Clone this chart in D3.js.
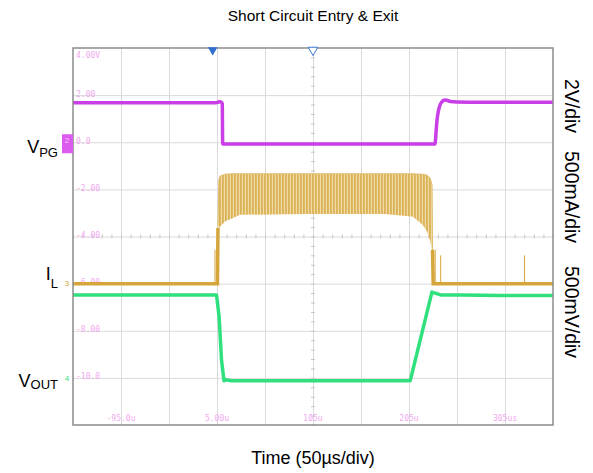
<!DOCTYPE html>
<html>
<head>
<meta charset="utf-8">
<script src="https://cdn.jsdelivr.net/npm/d3@7"></script>
<style>
  html, body { margin: 0; padding: 0; background: #ffffff; }
  svg { display: block; font-family: "Liberation Sans", Arial, sans-serif; }
</style>
</head>
<body>
<svg id="chart" width="593" height="473"></svg>
<script>
// ---------- data (time in µs) ----------
const timeGrid = [-145, -95, -45, 5, 55, 105, 155, 205, 255, 305, 355];
const timeLabelValues = [-95, 5, 105, 205, 305];
const timeLabels = ["-95.0u", "5.00u", "105u", "205u", "305us"];
const voltLabelValues = [4, 2, 0, -2, -4, -6, -8, -10];
const voltLabels = ["4.00V", "2.00", "0.0", "-2.00", "-4.00", "-6.00", "-8.00", "-10.0"];

// V_PG (V)
const vpgTime = [-145, 4, 6, 8, 9.5, 10.5, 10.9, 232.1, 233.2, 234.2, 235.5, 237.3, 239, 240.4, 242.5, 244.6, 248, 255, 280, 355];
const vpgVolt = [1.68, 1.68, 1.70, 1.72, 1.70, 1.64, -0.07, -0.07, 0.45, 0.95, 1.3, 1.58, 1.70, 1.76, 1.79, 1.78, 1.73, 1.71, 1.70, 1.70];

// V_OUT (V)
const voutTime = [-145, 4.5, 7.2, 9.7, 12.3, 14, 20, 100, 206.3, 228.9, 232, 238, 260, 300, 355];
const voutVolt = [0.88, 0.88, 0.65, 0.19, -0.03, -0.02, -0.03, -0.03, -0.03, 0.91, 0.90, 0.88, 0.88, 0.875, 0.875];

// I_L baseline (A), NaN breaks the trace during the hiccup burst
const ilTime = [-145, 5.5, 6.0, 6.0, 229.5, 230.2, 355];
const ilAmp = [0, 0, 0.59, NaN, 0.36, 0, 0];

// I_L hiccup burst envelope (A)
const burstTime = [6.0, 7.0, 8.1, 13.3, 20.6, 29, 100, 180, 209.2, 219.6, 223.8, 226.9, 229.0, 229.5];
const burstUpper = [0.62, 1.10, 1.14, 1.16, 1.165, 1.165, 1.165, 1.165, 1.165, 1.16, 1.15, 1.12, 1.05, 0.36];
const burstLower = [0.59, 0.59, 0.60, 0.66, 0.69, 0.73, 0.74, 0.74, 0.71, 0.62, 0.55, 0.46, 0.36, 0.30];

// I_L glitch spikes (A)
const spikeTime = [2.9, 232.3, 238.0, 325.4];
const spikeAmp = [0.36, 0.36, 0.30, 0.30];

// ---------- layout ----------
const svg = d3.select("#chart");
const L = 73, R = 553, T = 48, B = 425;
const W = R - L, H = B - T;

const x = d3.scaleLinear().domain([-145, 355]).range([L, R]);      // 50 µs/div
const yDiv = d3.scaleLinear().domain([0, 8]).range([B, T]);
const yVpg = d3.scaleLinear().domain([-12, 4]).range([B, T]);     // 2 V/div, ground at div 6
const yIl = d3.scaleLinear().domain([-1.5, 2.5]).range([B, T]);   // 500 mA/div, ground at div 3
const yVout = d3.scaleLinear().domain([-0.5, 3.5]).range([B, T]); // 500 mV/div, ground at div 1

const cPG = "#c93ee6", cIL = "#d6a63c", cOUT = "#2fe07c", cTick = "#f0a8ee";

// pattern for the burst
const defs = svg.append("defs");
const pat = defs.append("pattern").attr("id", "burst").attr("patternUnits", "userSpaceOnUse")
  .attr("width", 3).attr("height", 6);
pat.append("rect").attr("width", 3).attr("height", 6).attr("fill", "#f1dca8");
pat.append("rect").attr("x", 0).attr("width", 1.8).attr("height", 6).attr("fill", "#dbb256");

// grid
const grid = svg.append("g");
grid.append("g").attr("transform", `translate(0,${B})`)
  .call(d3.axisBottom(x).tickValues(timeGrid.slice(1, -1)).tickSize(-H).tickFormat(""))
  .call(g => g.select(".domain").remove())
  .call(g => g.selectAll("line").attr("stroke", "#dadada").attr("stroke-width", 1));
grid.append("g").attr("transform", `translate(${L},0)`)
  .call(d3.axisLeft(yDiv).tickValues(d3.range(1, 8)).tickSize(-W).tickFormat(""))
  .call(g => g.select(".domain").remove())
  .call(g => g.selectAll("line").attr("stroke", "#dadada").attr("stroke-width", 1));

// minor ticks on centre axes
const minorT = d3.range(-145, 356, 10);
grid.append("g").attr("transform", `translate(0,${yDiv(4) + 2})`)
  .call(d3.axisTop(x).tickValues(minorT).tickSize(4).tickFormat(""))
  .call(g => g.select(".domain").remove())
  .call(g => g.selectAll("line").attr("stroke", "#c8c8c8"));
grid.append("g").attr("transform", `translate(${x(105) + 2},0)`)
  .call(d3.axisLeft(yDiv).tickValues(d3.range(0, 8.01, 0.2)).tickSize(4).tickFormat(""))
  .call(g => g.select(".domain").remove())
  .call(g => g.selectAll("line").attr("stroke", "#c8c8c8"));

// faint scope labels
svg.append("g").selectAll("text").data(voltLabelValues).join("text")
  .attr("x", L + 3).attr("y", (d, i) => i === 0 ? yVpg(d) + 7 : yVpg(d) - 1)
  .attr("dominant-baseline", "middle")
  .attr("font-size", 8).attr("fill", cTick).attr("font-family", "DejaVu Sans Mono, monospace")
  .text((d, i) => voltLabels[i]);
svg.append("g").selectAll("text").data(timeLabelValues).join("text")
  .attr("x", d => x(d)).attr("y", B - 4)
  .attr("text-anchor", "middle")
  .attr("font-size", 8).attr("fill", cTick).attr("font-family", "DejaVu Sans Mono, monospace")
  .text((d, i) => timeLabels[i]);

// traces
const plot = svg.append("g");
// burst
const area = d3.area().x(d => x(d[0])).y0(d => yIl(d[2])).y1(d => yIl(d[1]));
const burstData = burstTime.map((t, i) => [t, burstUpper[i], burstLower[i]]);
plot.append("path").datum(burstData).attr("d", area).attr("fill", "url(#burst)");
plot.append("path").datum(burstData)
  .attr("d", d3.line().x(d => x(d[0])).y(d => yIl(d[1])))
  .attr("fill", "none").attr("stroke", "#e0bd6a").attr("stroke-width", 1);

// spikes
plot.append("g").selectAll("line").data(spikeTime).join("line")
  .attr("x1", d => x(d)).attr("x2", d => x(d))
  .attr("y1", yIl(0)).attr("y2", (d, i) => yIl(spikeAmp[i]))
  .attr("stroke", cIL).attr("stroke-width", 1);

const ilLine = d3.line().defined(d => !isNaN(d[1])).x(d => x(d[0])).y(d => yIl(d[1]));
plot.append("path").datum(ilTime.map((t, i) => [t, ilAmp[i]]))
  .attr("d", ilLine).attr("fill", "none").attr("stroke", cIL).attr("stroke-width", 3.5);

plot.append("path").datum(voutTime.map((t, i) => [t, voutVolt[i]]))
  .attr("d", d3.line().x(d => x(d[0])).y(d => yVout(d[1])))
  .attr("fill", "none").attr("stroke", cOUT).attr("stroke-width", 3.5).attr("stroke-linejoin", "round");

plot.append("path").datum(vpgTime.map((t, i) => [t, vpgVolt[i]]))
  .attr("d", d3.line().curve(d3.curveMonotoneX).x(d => x(d[0])).y(d => yVpg(d[1])))
  .attr("fill", "none").attr("stroke", cPG).attr("stroke-width", 3.5).attr("stroke-linejoin", "round");

// frame
svg.append("rect").attr("x", L).attr("y", T).attr("width", W).attr("height", H)
  .attr("fill", "none").attr("stroke", "#8c8c8c").attr("stroke-width", 1.5);

// trigger markers
const tri = d3.symbol().type(d3.symbolTriangle).size(40);
svg.append("path").attr("d", tri()).attr("transform", `translate(${x(0.5)},${T + 2}) rotate(180)`)
  .attr("fill", "#2f6fd0");
svg.append("path").attr("d", tri()).attr("transform", `translate(${x(105)},${T + 2}) rotate(180)`)
  .attr("fill", "#ffffff").attr("stroke", "#3a78d8").attr("stroke-width", 1);

// channel markers
svg.append("rect").attr("x", 62).attr("y", yVpg(0) - 8).attr("width", 11).attr("height", 19)
  .attr("fill", "#dd5cf0");
svg.append("text").attr("x", 67).attr("y", yVpg(0) + 1).attr("text-anchor", "middle")
  .attr("font-size", 8).attr("fill", "#f6c8fb").text("2");
svg.append("text").attr("x", 67).attr("y", yIl(0) + 2).attr("text-anchor", "middle")
  .attr("font-size", 8).attr("fill", cIL).text("3");
svg.append("text").attr("x", 67).attr("y", yVout(0) + 3).attr("text-anchor", "middle")
  .attr("font-size", 8).attr("fill", cOUT).text("4");

// channel names
function chanLabel(xp, yp, main, sub, drop) {
  const t = svg.append("text").attr("x", xp).attr("y", yp).attr("text-anchor", "end")
    .attr("fill", "#000").attr("font-size", 18);
  t.append("tspan").text(main);
  t.append("tspan").attr("font-size", 13).attr("dy", drop).text(sub);
}
chanLabel(58, 153, "V", "PG", 4);
chanLabel(58, 280, "I", "L", 8);
chanLabel(58, 387, "V", "OUT", 2);

// right scale labels
const rightLabels = ["2V/div", "500mA/div", "500mV/div"];
const rightCenters = [106, 197, 312];
svg.append("g").selectAll("text").data(rightLabels).join("text")
  .attr("transform", (d, i) => `translate(565,${rightCenters[i]}) rotate(90)`)
  .attr("text-anchor", "middle").attr("font-size", 19.5).attr("fill", "#000")
  .text(d => d);

// titles
svg.append("text").attr("x", 313).attr("y", 21).attr("text-anchor", "middle")
  .attr("font-size", 15.5).attr("fill", "#000").text("Short Circuit Entry & Exit");
svg.append("text").attr("x", 313).attr("y", 464).attr("text-anchor", "middle")
  .attr("font-size", 18).attr("fill", "#000").text("Time (50µs/div)");
</script>
</body>
</html>
